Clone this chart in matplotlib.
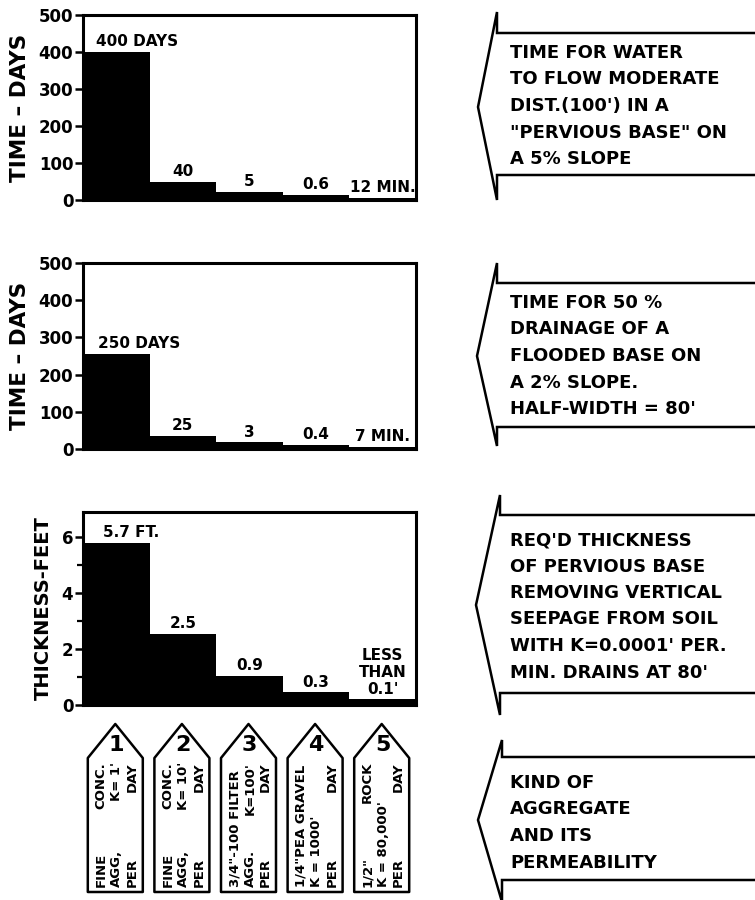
"""Pervious base drainage comparison for five aggregates."""

import matplotlib

matplotlib.use("Agg")
import matplotlib.pyplot as plt
from matplotlib.patches import Polygon
from matplotlib.ticker import FixedLocator

# bar heights as drawn in the figure (small values are exaggerated there)
flow_days = [400, 48, 22, 13, 6]
flow_labels = ["400 DAYS", "40", "5", "0.6", "12 MIN."]

drain_days = [255, 35, 18, 11, 6]
drain_labels = ["250 DAYS", "25", "3", "0.4", "7 MIN."]

thickness_ft = [5.8, 2.55, 1.05, 0.45, 0.2]
thickness_labels = ["5.7 FT.", "2.5", "0.9", "0.3", "LESS\nTHAN\n0.1'"]

aggregate_ids = ["1", "2", "3", "4", "5"]
# each column reads bottom-to-top: (lower part, upper part)
aggregate_text = [
    [("FINE", "CONC."), ("AGG,", "K= 1'"), ("PER", "DAY")],
    [("FINE", "CONC."), ("AGG,", "K= 10'"), ("PER", "DAY")],
    [("3/4\"-100 FILTER", ""), ("AGG.", "K=100'"), ("PER", "DAY")],
    [("1/4\"PEA GRAVEL", ""), ("K = 1000'", ""), ("PER", "DAY")],
    [("1/2\"", "ROCK"), ("K = 80,000'", ""), ("PER", "DAY")],
]

arrow_texts = [
    ["TIME FOR WATER", "TO FLOW MODERATE", "DIST.(100') IN A",
     "\"PERVIOUS BASE\" ON", "A 5% SLOPE"],
    ["TIME FOR 50 %", "DRAINAGE OF A", "FLOODED BASE ON",
     "A 2% SLOPE.", "HALF-WIDTH = 80'"],
    ["REQ'D THICKNESS", "OF PERVIOUS BASE", "REMOVING VERTICAL",
     "SEEPAGE FROM SOIL", "WITH K=0.0001' PER.", "MIN. DRAINS AT 80'"],
    ["KIND OF", "AGGREGATE", "AND ITS", "PERMEABILITY"],
]

plt.rcParams["font.family"] = "DejaVu Sans"
plt.rcParams["font.weight"] = "bold"

W, H = 755, 900
fig = plt.figure(figsize=(W / 100, H / 100), dpi=100)

AX_LEFT, AX_RIGHT = 83, 416
xs = [i + 0.5 for i in range(5)]


def make_axes(top, bottom):
    return fig.add_axes([AX_LEFT / W, 1 - bottom / H,
                         (AX_RIGHT - AX_LEFT) / W, (bottom - top) / H])


def style(ax, ylabel, size):
    ax.set_xlim(0, 5)
    ax.set_xticks([])
    for sp in ax.spines.values():
        sp.set_linewidth(2.2)
    ax.tick_params(axis="y", length=6, width=1.8, pad=1, labelsize=12)
    ax.set_ylabel(ylabel, fontsize=size, fontweight="bold", labelpad=6)


def bar_labels(ax, heights, labels, first_offset):
    for i, (x, h, lab) in enumerate(zip(xs, heights, labels)):
        if i == 0:
            ax.annotate(lab, (x - 0.5 + first_offset, h), xytext=(0, 2),
                        textcoords="offset points", ha="left", va="bottom",
                        fontsize=11, fontweight="bold")
        else:
            ax.annotate(lab, (x, h), xytext=(0, 2), textcoords="offset points",
                        ha="center", va="bottom", fontsize=11,
                        fontweight="bold", linespacing=1.15)


ax1 = make_axes(15, 200)
ax1.bar(xs, flow_days, width=1.0, color="black")
ax1.set_ylim(0, 500)
ax1.set_yticks([0, 100, 200, 300, 400, 500])
style(ax1, "TIME \u2013 DAYS", 15.5)
bar_labels(ax1, flow_days, flow_labels, 0.2)

ax2 = make_axes(263, 449)
ax2.bar(xs, drain_days, width=1.0, color="black")
ax2.set_ylim(0, 500)
ax2.set_yticks([0, 100, 200, 300, 400, 500])
style(ax2, "TIME \u2013 DAYS", 15.5)
bar_labels(ax2, drain_days, drain_labels, 0.22)

ax3 = make_axes(512, 705)
ax3.bar(xs, thickness_ft, width=1.0, color="black")
ax3.set_ylim(0, 6.9)
ax3.set_yticks([0, 2, 4, 6])
ax3.yaxis.set_minor_locator(FixedLocator([1, 3, 5]))
ax3.tick_params(axis="y", which="minor", length=4, width=1.6)
style(ax3, "THICKNESS-FEET", 14)
bar_labels(ax3, thickness_ft, thickness_labels, 0.3)

# overlay in pixel coordinates for the arrows and the aggregate tags
ov = fig.add_axes([0, 0, 1, 1], zorder=-1)
ov.set_xlim(0, W)
ov.set_ylim(H, 0)
ov.axis("off")

# (head x, head top, shaft top, tip x, tip y, shaft bottom, head bottom, text top)
arrows = [
    (497, 12, 33, 478, 107, 175, 200, 53),
    (497, 263, 283, 477, 356, 427, 446, 303),
    (500, 495, 515, 476, 605, 693, 715, 540),
    (502, 740, 757, 478, 820, 880, 902, 783),
]
for (hx, ht, st, tx, ty, sb, hb, y0), lines in zip(arrows, arrow_texts):
    px = [W + 5, hx, hx, tx, hx, hx, W + 5]
    py = [st, st, ht, ty, hb, sb, sb]
    ov.plot(px, py, color="black", lw=1.8, solid_joinstyle="miter")
    for k, line in enumerate(lines):
        ov.text(510, y0 + k * 26.5, line, ha="left", va="center",
                fontsize=13, fontweight="bold")

tag_w = 55
tip_y, shoulder_y, bottom_y = 724, 758, 892
for i, (num, cols) in enumerate(zip(aggregate_ids, aggregate_text)):
    cx = AX_LEFT + (i + 0.5) * (AX_RIGHT - AX_LEFT) / 5 - 1
    pts = [(cx, tip_y), (cx + tag_w / 2, shoulder_y), (cx + tag_w / 2, bottom_y),
           (cx - tag_w / 2, bottom_y), (cx - tag_w / 2, shoulder_y)]
    ov.add_patch(Polygon(pts, closed=True, fill=False, edgecolor="black",
                         lw=1.8, joinstyle="round"))
    ov.text(cx + 1, 745, num, ha="center", va="center", fontsize=16,
            fontweight="bold")
    for j, (low, high) in enumerate(cols):
        x = cx - 14 + j * 15.5
        ov.text(x, bottom_y - 5, low, rotation=90, ha="center", va="bottom",
                fontsize=9.5, fontweight="bold")
        if high:
            ov.text(x, shoulder_y + 4, high, rotation=90, ha="center", va="top",
                    fontsize=9.5, fontweight="bold")

fig.savefig("out.png", dpi=100, facecolor="white")
